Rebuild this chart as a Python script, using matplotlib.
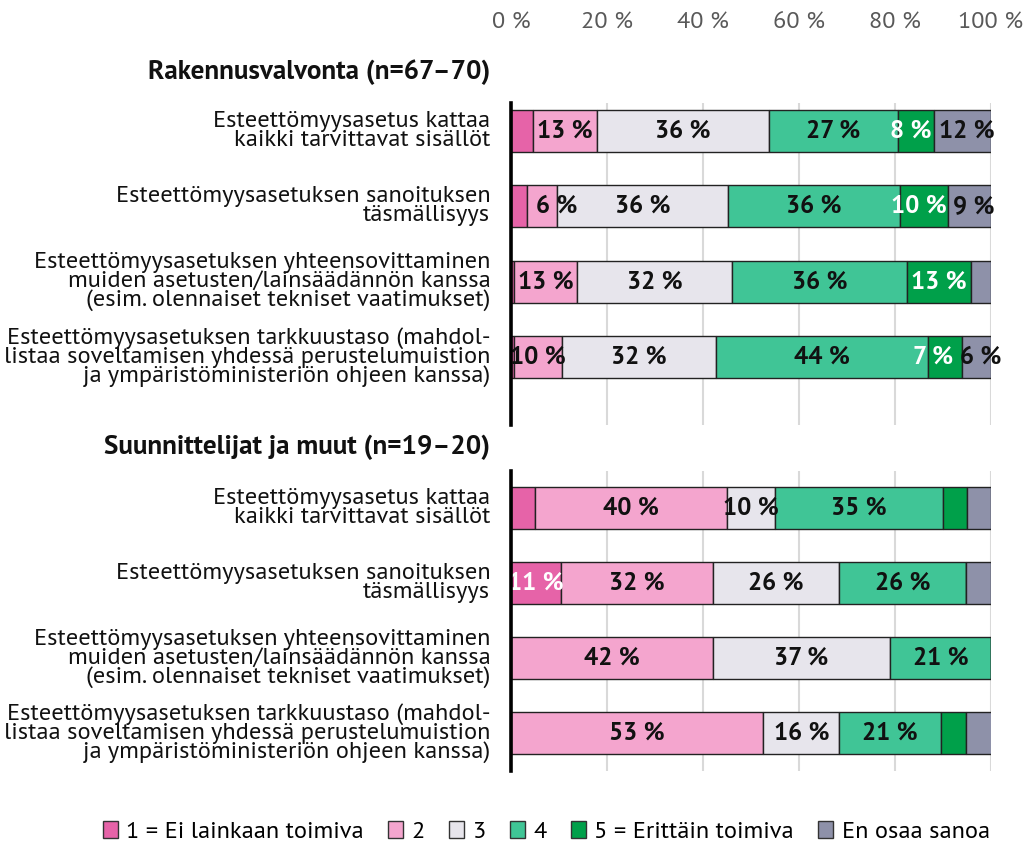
import matplotlib
matplotlib.use("Agg")
import numpy as np
import matplotlib.pyplot as plt
from matplotlib import font_manager
from matplotlib.patches import Patch

# fontti: Myriadin kaltainen, jolla on myös lihavoitu leikkaus
fontit = font_manager.fontManager.ttflist
def loytyy(nimi):
    painot = [f.weight for f in fontit if f.name == nimi]
    return 400 in painot and 700 in painot
FONT = next((f for f in ["Source Sans Pro", "PT Sans", "Lato", "Open Sans"] if loytyy(f)), "DejaVu Sans")
plt.rcParams['font.family'] = [FONT, 'DejaVu Sans']

# Data (%)
kysymykset = [
    "Esteettömyysasetus kattaa\nkaikki tarvittavat sisällöt",
    "Esteettömyysasetuksen sanoituksen\ntäsmällisyys",
    "Esteettömyysasetuksen yhteensovittaminen\nmuiden asetusten/lainsäädännön kanssa\n(esim. olennaiset tekniset vaatimukset)",
    "Esteettömyysasetuksen tarkkuustaso (mahdol-\nlistaa soveltamisen yhdessä perustelumuistion\nja ympäristöministeriön ohjeen kanssa)",
]
luokat = ["1 = Ei lainkaan toimiva", "2", "3", "4", "5 = Erittäin toimiva", "En osaa sanoa"]
varit = ["#E663A8", "#F4A5CE", "#E7E5EC", "#40C596", "#00A04A", "#8E91A9"]

ryhma1 = "Rakennusvalvonta (n=67–70)"
rakennusvalvonta = [
    [4.5, 13.4, 35.8, 26.9, 7.5, 11.9],
    [3.4, 6.1, 35.8, 35.7, 10.1, 8.9],
    [0.6, 13.1, 32.4, 36.4, 13.4, 4.1],
    [0.6, 10.0, 32.1, 44.2, 7.0, 6.1],
]
ryhma2 = "Suunnittelijat ja muut (n=19–20)"
suunnittelijat = [
    [5.0, 40.0, 10.0, 35.0, 5.0, 5.0],
    [10.5, 31.6, 26.3, 26.3, 0.0, 5.3],
    [0.0, 42.1, 36.8, 21.1, 0.0, 0.0],
    [0.0, 52.6, 15.8, 21.1, 5.3, 5.3],
]
xtikit = [0, 20, 40, 60, 80, 100]

# muutaman arvotekstin siirto (rivi, luokka) -> %-yksikköä, kuten alkuperäisessä
siirrot1 = {(0, 4): -1.0, (0, 5): 0.9, (1, 1): 3.0, (1, 4): -1.0, (1, 5): 0.9,
            (3, 4): -2.4, (3, 5): 0.9}

FS = 17.6
FS_ARVO = 18
FS_OTSIKKO = 19.5
fig = plt.figure(figsize=(10.29, 8.46), dpi=100)
ax1 = fig.add_axes([0.4966, 0.4976, 0.4665, 0.3807])
ax2 = fig.add_axes([0.4966, 0.0887, 0.4665, 0.3549])


def piirra(ax, data, otsikko, ylim, otsikko_y, siirrot):
    data = np.array(data)
    y = np.arange(len(data))
    vasen = np.zeros(len(data))
    for j in range(data.shape[1]):
        ax.barh(y, data[:, j], left=vasen, height=0.56, color=varit[j],
                edgecolor="#222222", linewidth=1.0, zorder=3)
        for i in range(len(data)):
            v = data[i, j]
            if v >= 5.8:
                ax.text(vasen[i] + v / 2 + siirrot.get((i, j), 0), y[i], f"{int(v + 0.5)} %",
                        ha="center", va="center", fontsize=FS_ARVO, fontweight="bold",
                        color="white" if j in (0, 4) else "#111111", zorder=4)
        vasen += data[:, j]
    for i, k in enumerate(kysymykset):
        ax.text(-0.043, y[i], k, transform=ax.get_yaxis_transform(), ha="right", va="center",
                fontsize=FS, linespacing=0.86, color="#111111")
    ax.text(-0.043, otsikko_y, otsikko, transform=ax.get_yaxis_transform(), ha="right",
            va="center", fontsize=FS_OTSIKKO, fontweight="bold", color="#111111")
    ax.set_xlim(0, 100)
    ax.set_ylim(ylim)
    ax.set_yticks([])
    ax.set_xticks(xtikit)
    ax.grid(axis="x", color="#D9D9D9", linewidth=1.5, zorder=0)
    for s in ["top", "right", "bottom"]:
        ax.spines[s].set_visible(False)
    ax.spines["left"].set_linewidth(2.6)
    ax.spines["left"].set_color("black")
    ax.spines["left"].set_zorder(5)


piirra(ax1, rakennusvalvonta, ryhma1, (3.9, -0.37), -0.78, siirrot1)
piirra(ax2, suunnittelijat, ryhma2, (3.5, -0.5), -0.81, {})

ax1.xaxis.tick_top()
ax1.set_xticklabels([f"{t} %" for t in xtikit])
ax1.tick_params(axis="x", length=0, pad=50, labelsize=FS, labelcolor="#595959")
ax2.tick_params(axis="x", length=0, labelbottom=False)

kahvat = [Patch(facecolor=c, edgecolor="#333333", linewidth=1.0) for c in varit]
fig.legend(kahvat, luokat, loc="center", bbox_to_anchor=(0.531, 0.017), ncol=6, frameon=False,
           fontsize=FS, handlelength=0.6, handleheight=0.7, handletextpad=0.35, columnspacing=1.0)

fig.savefig("out.png")
